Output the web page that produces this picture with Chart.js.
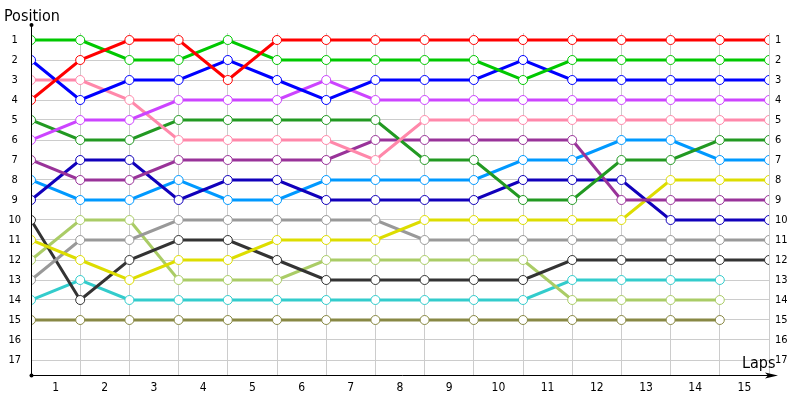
<!DOCTYPE html>
<html>
<head>
<meta charset="utf-8">
<script src="https://cdn.jsdelivr.net/npm/chart.js@4.4.1/dist/chart.umd.min.js"></script>
<style>
    html, body { margin: 0; padding: 0; background: #fff; }
    #wrap { width: 800px; height: 400px; position: relative; }
</style>
</head>
<body>
<div id="wrap"><canvas id="c"></canvas></div>
<script>
(function () {
    'use strict';

    // ------------------------------------------------------------------
    // Data
    // ------------------------------------------------------------------
    var LAPS = [0, 1, 2, 3, 4, 5, 6, 7, 8, 9, 10, 11, 12, 13, 14, 15];
    var LAP_LABELS = ['1','2','3','4','5','6','7','8','9','10','11','12','13','14','15'];
    var POSITIONS = [1,2,3,4,5,6,7,8,9,10,11,12,13,14,15,16,17];

    var red        = [4, 2, 1, 1, 3, 1, 1, 1, 1, 1, 1, 1, 1, 1, 1, 1];
    var green      = [1, 1, 2, 2, 1, 2, 2, 2, 2, 2, 3, 2, 2, 2, 2, 2];
    var blue       = [2, 4, 3, 3, 2, 3, 4, 3, 3, 3, 2, 3, 3, 3, 3, 3];
    var violet     = [6, 5, 5, 4, 4, 4, 3, 4, 4, 4, 4, 4, 4, 4, 4, 4];
    var pink       = [3, 3, 4, 6, 6, 6, 6, 7, 5, 5, 5, 5, 5, 5, 5, 5];
    var darkGreen  = [5, 6, 6, 5, 5, 5, 5, 5, 7, 7, 9, 9, 7, 7, 6, 6];
    var purple     = [7, 8, 8, 7, 7, 7, 7, 6, 6, 6, 6, 6, 9, 9, 9, 9];
    var navy       = [9, 7, 7, 9, 8, 8, 9, 9, 9, 9, 8, 8, 8, 10, 10, 10];
    var skyBlue    = [8, 9, 9, 8, 9, 9, 8, 8, 8, 8, 7, 7, 6, 6, 7, 7];
    var yellow     = [11, 12, 13, 12, 12, 11, 11, 11, 10, 10, 10, 10, 10, 8, 8, 8];
    var grey       = [13, 11, 11, 10, 10, 10, 10, 10, 11, 11, 11, 11, 11, 11, 11, 11];
    var black      = [10, 14, 12, 11, 11, 12, 13, 13, 13, 13, 13, 12, 12, 12, 12, 12];
    var lime       = [12, 10, 10, 13, 13, 13, 12, 12, 12, 12, 12, 14, 14, 14, 14, null];
    var cyan       = [14, 13, 14, 14, 14, 14, 14, 14, 14, 14, 14, 13, 13, 13, 13, null];
    var olive      = [15, 15, 15, 15, 15, 15, 15, 15, 15, 15, 15, 15, 15, 15, 15, null];

    var SERIES = [
        { values: red,       color: '#ff0000' },
        { values: green,     color: '#00c800' },
        { values: blue,      color: '#0000ff' },
        { values: violet,    color: '#cc44ff' },
        { values: pink,      color: '#ff88aa' },
        { values: darkGreen, color: '#229922' },
        { values: purple,    color: '#993399' },
        { values: navy,      color: '#1100bb' },
        { values: skyBlue,   color: '#0099ff' },
        { values: yellow,    color: '#dddd00' },
        { values: grey,      color: '#999999' },
        { values: black,     color: '#333333' },
        { values: lime,      color: '#aacc66' },
        { values: cyan,      color: '#33cccc' },
        { values: olive,     color: '#888844' }
    ];

    var FONT = 'Tahoma, "DejaVu Sans Condensed", "DejaVu Sans", sans-serif';

    var datasets = SERIES.map(function (s) {
        var pts = [];
        s.values.forEach(function (v, i) {
            if (v !== null) pts.push({ x: LAPS[i], y: v });
        });
        return {
            data: pts,
            borderColor: s.color,
            borderWidth: 3,
            pointRadius: 4.5,
            pointBorderWidth: 1,
            pointBorderColor: s.color,
            pointBackgroundColor: '#ffffff',
            tension: 0
        };
    });

    // ------------------------------------------------------------------
    // Axis decorations: titles, black axes, dots, arrow
    // ------------------------------------------------------------------
    var decorations = {
        id: 'decorations',
        afterDraw: function (chart) {
            var ctx = chart.ctx;
            var a = chart.chartArea;
            var x0 = Math.round(a.left) + 0.5;
            var y0 = Math.round(a.bottom) + 0.5;
            ctx.save();
            ctx.strokeStyle = '#000';
            ctx.fillStyle = '#000';
            ctx.lineWidth = 1;
            ctx.beginPath();
            ctx.moveTo(x0, 25);
            ctx.lineTo(x0, y0);
            ctx.lineTo(a.right + 4, y0);
            ctx.stroke();
            // arrow
            ctx.beginPath();
            ctx.moveTo(a.right + 9, y0);
            ctx.lineTo(a.right - 4, y0 - 3);
            ctx.lineTo(a.right - 1, y0);
            ctx.lineTo(a.right - 4, y0 + 3);
            ctx.closePath();
            ctx.fill();
            // dots
            ctx.beginPath(); ctx.arc(x0, 25, 2, 0, Math.PI * 2); ctx.fill();
            ctx.beginPath(); ctx.arc(x0, y0, 2, 0, Math.PI * 2); ctx.fill();
            // titles
            ctx.font = '16px ' + FONT;
            ctx.textBaseline = 'alphabetic';
            ctx.textAlign = 'left';
            ctx.fillText('Position', 4, 21);
            ctx.fillText('Laps', 742, 368);
            ctx.restore();
        }
    };

    function setTicks(list) {
        return function (scale) {
            scale.ticks = list.map(function (v) { return { value: v }; });
        };
    }

    new Chart(document.getElementById('c'), {
        type: 'line',
        data: { datasets: datasets },
        options: {
            responsive: true,
            maintainAspectRatio: false,
            animation: false,
            layout: { padding: { top: 33, left: 0, right: 0, bottom: 0 } },
            plugins: {
                legend: { display: false },
                tooltip: { enabled: false }
            },
            scales: {
                x: {
                    type: 'linear',
                    min: 0,
                    max: 15,
                    afterBuildTicks: setTicks(LAPS),
                    afterFit: function (s) { s.height = 25; },
                    border: { display: false },
                    grid: { color: '#cccccc', drawTicks: false },
                    ticks: {
                        autoSkip: false,
                        maxRotation: 0,
                        padding: 6,
                        labelOffset: 24.6,
                        color: '#000',
                        font: { family: FONT, size: 12 },
                        callback: function (v, i) { return LAP_LABELS[i] || ''; }
                    }
                },
                y: {
                    type: 'linear',
                    reverse: true,
                    min: 0.65,
                    max: 17.75,
                    afterBuildTicks: setTicks(POSITIONS),
                    afterFit: function (s) { s.width = 31; },
                    border: { display: false },
                    grid: { color: '#cccccc', drawTicks: false },
                    ticks: {
                        crossAlign: 'center',
                        padding: 10,
                        color: '#000',
                        font: { family: FONT, size: 11 },
                        callback: function (v) { return String(v); }
                    }
                },
                y2: {
                    type: 'linear',
                    position: 'right',
                    reverse: true,
                    min: 0.65,
                    max: 17.75,
                    afterBuildTicks: setTicks(POSITIONS),
                    afterFit: function (s) { s.width = 31; },
                    border: { display: false },
                    grid: { display: false, drawTicks: false },
                    ticks: {
                        padding: 6,
                        color: '#000',
                        font: { family: FONT, size: 11 },
                        callback: function (v) { return String(v); }
                    }
                }
            }
        },
        plugins: [decorations]
    });
})();
</script>
</body>
</html>
